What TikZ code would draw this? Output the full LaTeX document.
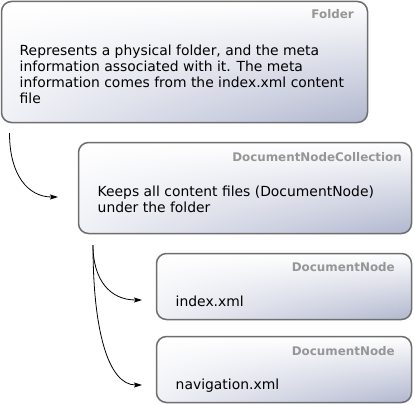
\documentclass[tikz,border=0pt]{standalone}
\usepackage{fontspec}
\setmainfont{DejaVu Sans}
\usetikzlibrary{shadings,arrows.meta}
\definecolor{boxline}{RGB}{110,110,110}
\definecolor{titlegray}{RGB}{150,150,150}
\definecolor{shadeLL}{RGB}{240,241,246}
\definecolor{shadeLR}{RGB}{176,182,206}
\tikzset{
  box/.style={draw=boxline, line width=1.5pt, rounded corners=10pt,
    rectangle, inner sep=0pt,
    upper left=white, upper right=white, lower left=shadeLL, lower right=shadeLR},
  boxtitle/.style={anchor=base east, inner sep=0pt, text=titlegray,
    font=\fontsize{11.9}{14}\selectfont\bfseries},
  boxbody/.style={anchor=base west, inner sep=0pt, align=left,
    font=\fontsize{13.9}{16}\selectfont},
  conn/.style={line width=0.8pt, -{Stealth[length=8pt,width=5pt,inset=1.5pt]}}
}
\begin{document}
\begin{tikzpicture}[x=1pt,y=-1pt]
\useasboundingbox (0,0) rectangle (414,404);
% boxes
\node[box, minimum width=366pt, minimum height=121pt] (folder) at (184.5,62) {};
\node[box, minimum width=333pt, minimum height=91pt] (coll) at (245,188) {};
\node[box, minimum width=255pt, minimum height=66pt] (doc1) at (284,286.5) {};
\node[box, minimum width=255pt, minimum height=66pt] (doc2) at (284,369.5) {};
% titles
\node[boxtitle] (folderT) at (354,19) {Folder};
\node[boxtitle] (collT) at (402,161) {DocumentNodeCollection};
\node[boxtitle] (doc1T) at (395,271) {DocumentNode};
\node[boxtitle] (doc2T) at (395,355) {DocumentNode};
% bodies (base anchor = baseline of last line)
\node[boxbody] (folderB) at (19.5,103) {Represents a physical folder, and the meta\\information associated with it. The meta\\information comes from the index.xml content\\file};
\node[boxbody] (collB) at (97.5,212) {Keeps all content files (DocumentNode)\\under the folder};
\node[boxbody] (doc1B) at (175.5,306) {index.xml};
\node[boxbody] (doc2B) at (175.5,389) {navigation.xml};
% connectors
\coordinate (s1) at (9.5,133);
\coordinate (e1) at (58,197);
\coordinate (s2) at (93,245);
\coordinate (e2) at (142,300);
\coordinate (e3) at (142,385);
\draw[conn] (s1) .. controls (9.5,175) and (28,197) .. (e1);
\draw[conn] (s2) .. controls (93,280) and (110,300) .. (e2);
\draw[conn] (s2) .. controls (93,330) and (108,385) .. (e3);
\end{tikzpicture}
\end{document}
